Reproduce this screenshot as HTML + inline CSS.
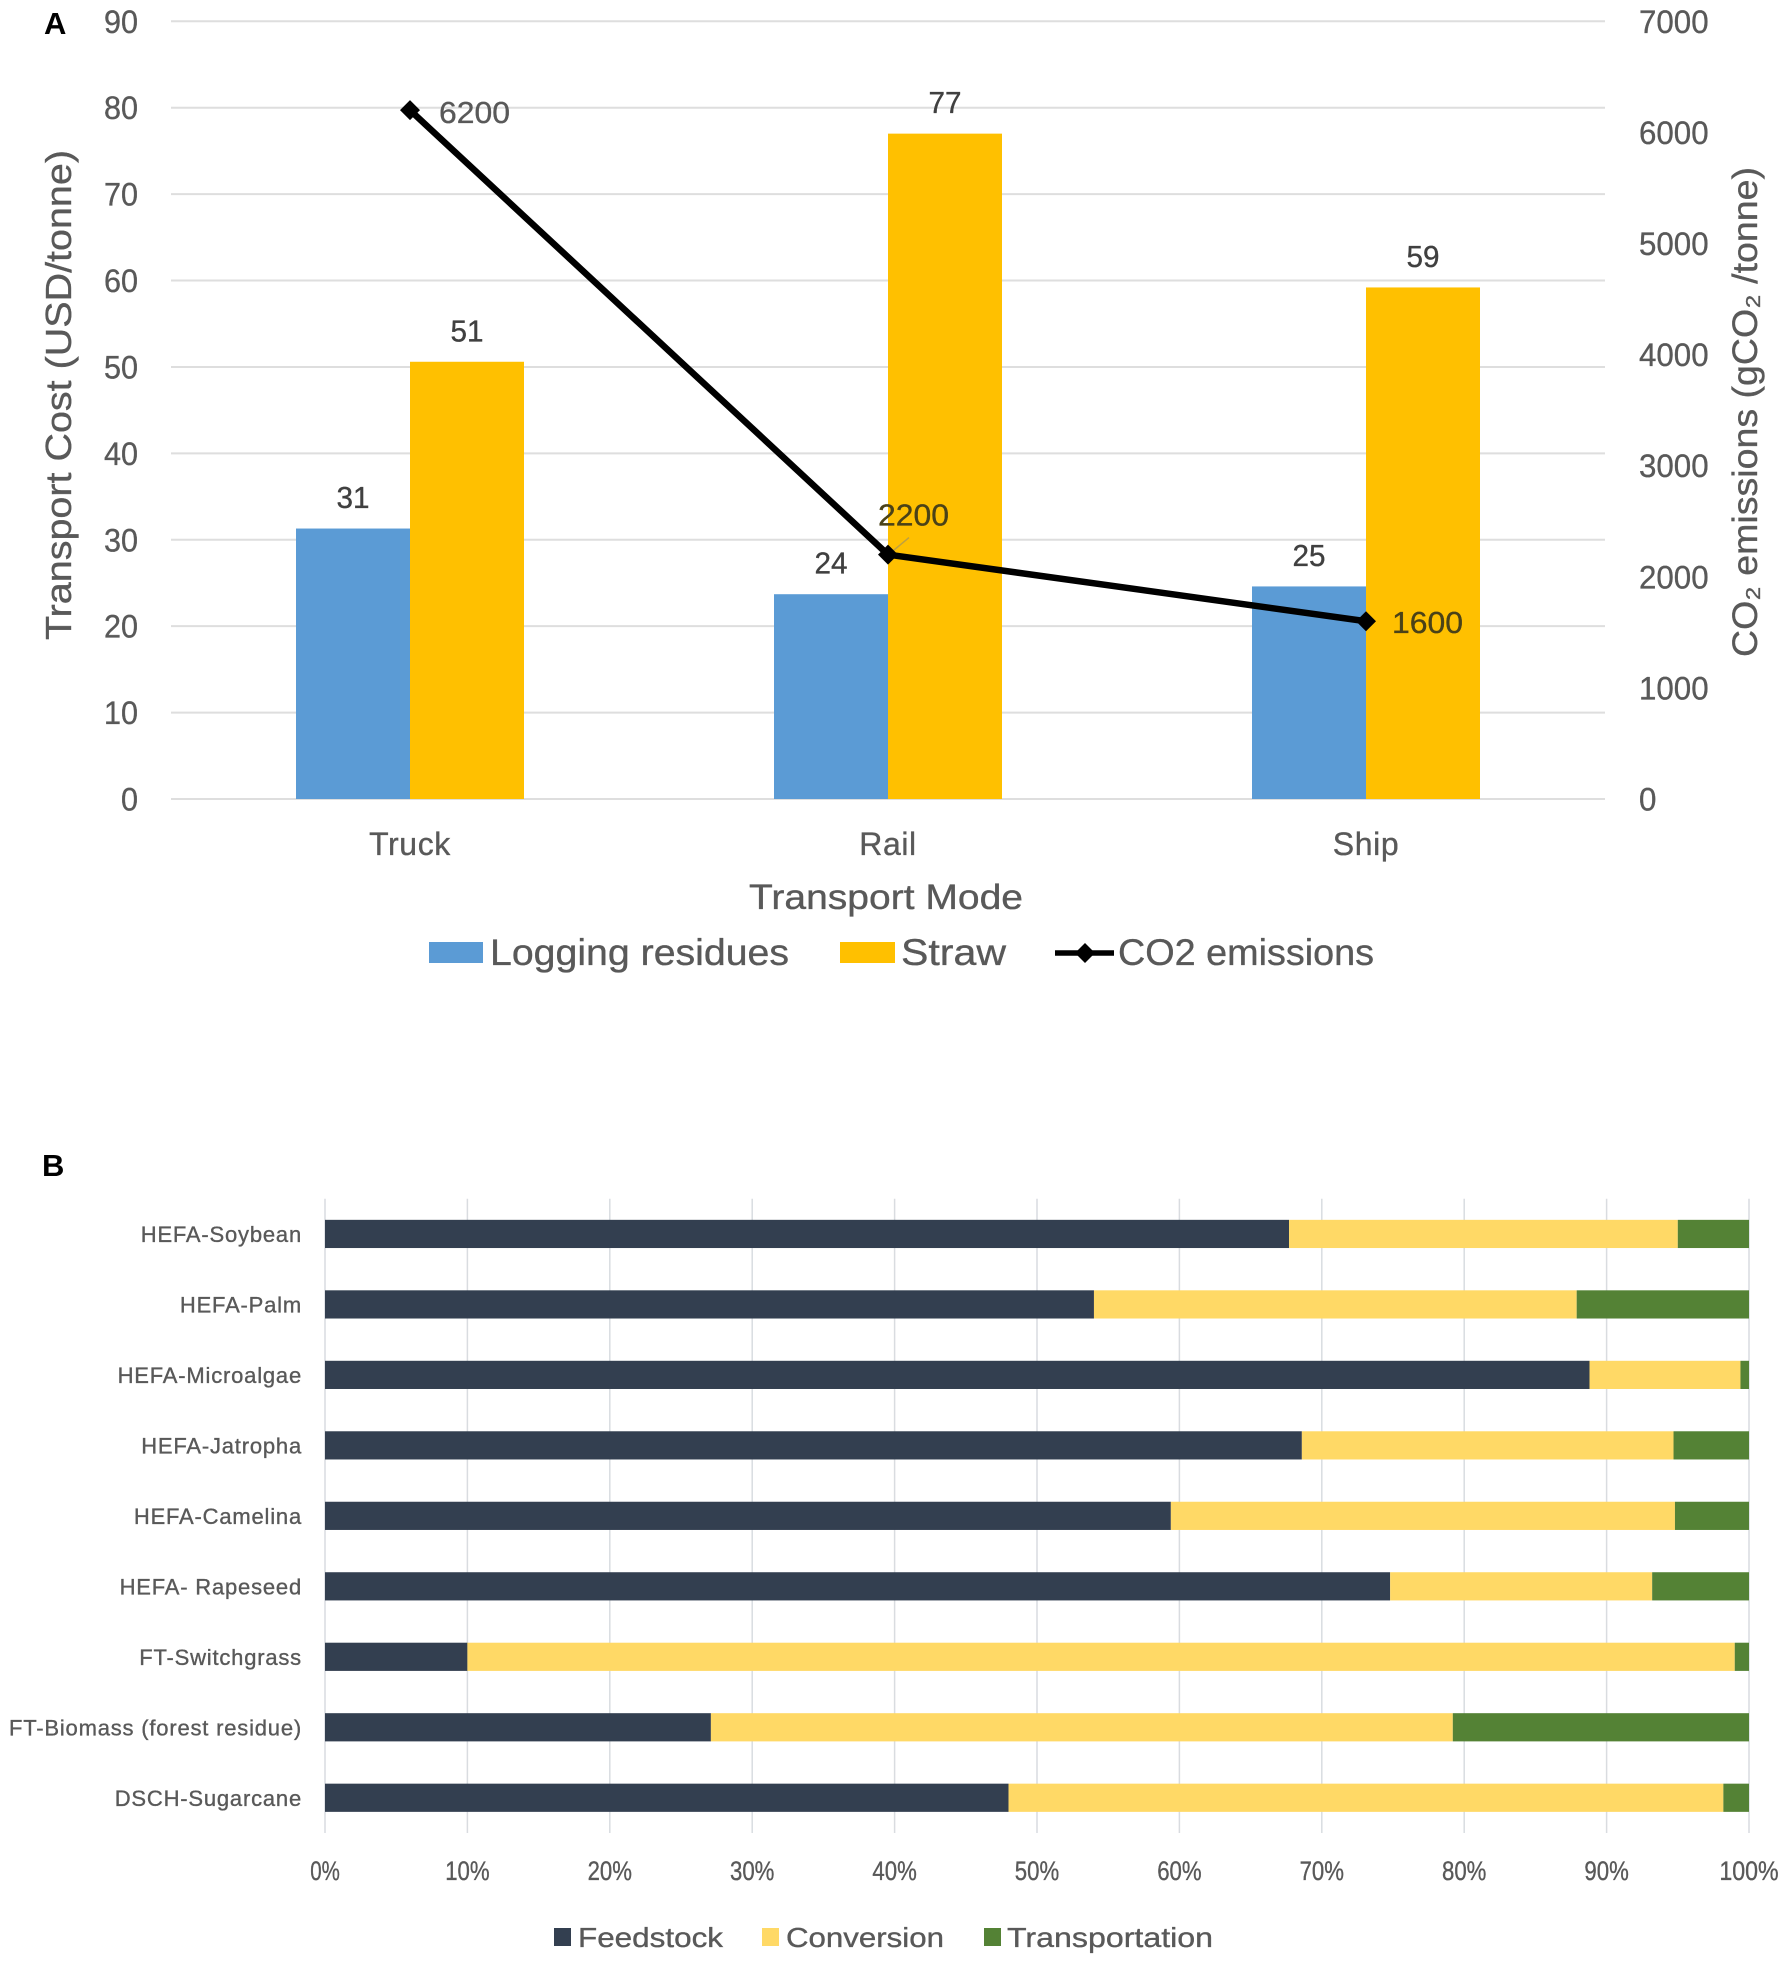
<!DOCTYPE html>
<html lang="en">
<head>
<meta charset="utf-8">
<title>Transport cost and cost breakdown charts</title>
<style>
html,body{margin:0;padding:0;background:#fff}
svg{display:block}
text{font-family:"Liberation Sans","DejaVu Sans",sans-serif;fill:#595959;stroke:#595959;stroke-width:.35px}
</style>
</head>
<body>
<svg id="fig" xmlns="http://www.w3.org/2000/svg" width="1782" height="1966" viewBox="0 0 1782 1966">
<rect width="1782" height="1966" fill="#fff"/>
<text x="44" y="34" font-size="31" font-weight="700" style="fill:#000;stroke:none">A</text>
<text x="42" y="1176" font-size="31" font-weight="700" style="fill:#000;stroke:none">B</text>
<g id="chartA"></g>
<text transform="translate(71,395) rotate(-90)" text-anchor="middle" font-size="36" textLength="490" lengthAdjust="spacingAndGlyphs">Transport Cost  (USD/tonne)</text>
<text transform="translate(1757,412) rotate(-90)" text-anchor="middle" font-size="35" textLength="490" lengthAdjust="spacingAndGlyphs">CO₂ emissions  (gCO₂ /tonne)</text>
<text x="886" y="909" text-anchor="middle" font-size="35" font-weight="400" textLength="274" lengthAdjust="spacingAndGlyphs">Transport Mode</text>
<g transform="translate(2,0)">
<rect x="427" y="942" width="54" height="21" fill="#5B9BD5"/>
<text x="488" y="965" font-size="37" textLength="299" lengthAdjust="spacingAndGlyphs">Logging residues</text>
<rect x="838" y="942" width="55" height="21" fill="#FFC000"/>
<text x="899" y="965" font-size="37" textLength="105" lengthAdjust="spacingAndGlyphs">Straw</text>
<line x1="1053" y1="953" x2="1112" y2="953" stroke="#000" stroke-width="5.5"/>
<path d="M1083 943L1093 953L1083 963L1073 953Z" fill="#000"/>
<text x="1116" y="965" font-size="37" textLength="256" lengthAdjust="spacingAndGlyphs">CO2 emissions</text>
</g>
<g id="chartB"></g>
<g transform="translate(2,0)">
<rect x="552" y="1928" width="17" height="18" fill="#333F50"/>
<text x="576" y="1947" font-size="28" textLength="145" lengthAdjust="spacingAndGlyphs">Feedstock</text>
<rect x="760" y="1928" width="17" height="18" fill="#FFD966"/>
<text x="784" y="1947" font-size="28" textLength="158" lengthAdjust="spacingAndGlyphs">Conversion</text>
<rect x="982" y="1928" width="17" height="18" fill="#548235"/>
<text x="1005" y="1947" font-size="28" textLength="206" lengthAdjust="spacingAndGlyphs">Transportation</text>
</g>
</svg>
<script>
// Panel A data
const modes = ['Truck', 'Rail', 'Ship'];
const loggingResidues = [31.3, 23.7, 24.6];
const straw = [50.6, 77, 59.2];
const co2Emissions = [6200, 2200, 1600];
const loggingLabels = ['31', '24', '25'];
const strawLabels = ['51', '77', '59'];
const co2Labels = ['6200', '2200', '1600'];
const costTicks = [0, 10, 20, 30, 40, 50, 60, 70, 80, 90];
const co2Ticks = [0, 1000, 2000, 3000, 4000, 5000, 6000, 7000];

// Panel B data
const pathways = ['HEFA-Soybean', 'HEFA-Palm', 'HEFA-Microalgae', 'HEFA-Jatropha', 'HEFA-Camelina', 'HEFA- Rapeseed', 'FT-Switchgrass', 'FT-Biomass (forest residue)', 'DSCH-Sugarcane'];
const feedstock = [67.7, 54, 88.8, 68.6, 59.4, 74.8, 10, 27.1, 48];
const conversion = [27.3, 33.9, 10.6, 26.1, 35.4, 18.4, 89, 52.1, 50.2];
const transportation = [5, 12.1, 0.6, 5.3, 5.2, 6.8, 1, 20.8, 1.8];
const shareTicks = [0, 10, 20, 30, 40, 50, 60, 70, 80, 90, 100];

const NS = 'http://www.w3.org/2000/svg';
function mk(parent, tag, attrs, txt) {
  const el = document.createElementNS(NS, tag);
  for (const k in attrs) el.setAttribute(k, attrs[k]);
  if (txt !== undefined) el.textContent = txt;
  parent.appendChild(el);
  return el;
}

// Panel A scales
const A = document.getElementById('chartA');
const aLeft = 171, aRight = 1605, aBase = 799, aTop = 21.3;
const yCost = v => aBase - (v / 90) * (aBase - aTop);
const yCo2 = v => aBase - (v / 7000) * (aBase - aTop);
const xMode = i => aLeft + (i + 0.5) * (aRight - aLeft) / modes.length;
const barW = 114;

costTicks.forEach(t => {
  const g = mk(A, 'line', {x1: aLeft, x2: aRight, y1: yCost(t), y2: yCost(t), stroke: '#DEDEDE', 'stroke-width': 2});
  
  
  const s = String(t);
  const l = mk(A, 'text', {x: 138, y: yCost(t) + 11.5, 'text-anchor': 'end', 'font-size': 32, textLength: s.length * 17, lengthAdjust: 'spacingAndGlyphs'}, s);
  
  
});
co2Ticks.forEach(t => {
  const s = String(t);
  const l = mk(A, 'text', {x: 1639, y: yCo2(t) + 11.5, 'font-size': 32, textLength: s.length * 17.4, lengthAdjust: 'spacingAndGlyphs'}, s);
  
  
});
modes.forEach((m, i) => {
  const cx = xMode(i);
  const b1 = mk(A, 'rect', {x: cx - barW, y: yCost(loggingResidues[i]), width: barW, height: aBase - yCost(loggingResidues[i]), fill: '#5B9BD5'});
  
  
  const b2 = mk(A, 'rect', {x: cx, y: yCost(straw[i]), width: barW, height: aBase - yCost(straw[i]), fill: '#FFC000'});
  
  
  const l1 = mk(A, 'text', {x: cx - barW / 2, y: yCost(loggingResidues[i]) - 20.5, 'text-anchor': 'middle', 'font-size': 31, style: 'fill:#404040;stroke:#404040', textLength: 33, lengthAdjust: 'spacingAndGlyphs'}, loggingLabels[i]);
  
  
  const l2 = mk(A, 'text', {x: cx + barW / 2, y: yCost(straw[i]) - 20.5, 'text-anchor': 'middle', 'font-size': 31, style: 'fill:#404040;stroke:#404040', textLength: 33, lengthAdjust: 'spacingAndGlyphs'}, strawLabels[i]);
  
  
  const c = mk(A, 'text', {x: cx, y: 855, 'text-anchor': 'middle', 'font-size': 32, 'letter-spacing': 0.6}, m);
  
  
});
const lead = mk(A, 'line', {x1: xMode(1) + 3, y1: yCo2(co2Emissions[1]) - 2, x2: xMode(1) + 21, y2: yCo2(co2Emissions[1]) - 17, stroke: '#BFA040', 'stroke-width': 1.5});


const linePts = modes.map((m, i) => xMode(i) + ',' + yCo2(co2Emissions[i])).join(' ');
const pl = mk(A, 'polyline', {points: linePts, fill: 'none', stroke: '#000', 'stroke-width': 6.5, 'stroke-linejoin': 'round'});


const co2Dx = [29, -10, 26];
const co2Dy = [13, -29, 12];
modes.forEach((m, i) => {
  const cx = xMode(i), cy = yCo2(co2Emissions[i]);
  const d = mk(A, 'path', {d: `M${cx} ${cy - 10}L${cx + 10} ${cy}L${cx} ${cy + 10}L${cx - 10} ${cy}Z`, fill: '#000'});
  
  
  const tone = i === 0 ? '#595959' : '#4a4218';
  const t = mk(A, 'text', {x: cx + co2Dx[i], y: cy + co2Dy[i], 'font-size': 31, style: 'fill:' + tone + ';stroke:' + tone, textLength: 71, lengthAdjust: 'spacingAndGlyphs'}, co2Labels[i]);
  
  
});

// Panel B scales
const B = document.getElementById('chartB');
const bLeft = 325, bRight = 1749, bTop = 1198.7, bBottom = 1833;
const xShare = v => bLeft + (v / 100) * (bRight - bLeft);
const band = (bBottom - bTop) / pathways.length;
const yPath = i => bTop + (i + 0.5) * band;
const barH = 28.2;

shareTicks.forEach(t => {
  const g = mk(B, 'line', {x1: xShare(t), x2: xShare(t), y1: bTop, y2: bBottom, stroke: '#D9DCE0', 'stroke-width': 1.5});
  
  
  const s = t + '%';
  const l = mk(B, 'text', {x: xShare(t), y: 1880, 'text-anchor': 'middle', 'font-size': 27, textLength: s.length * 14.8, lengthAdjust: 'spacingAndGlyphs'}, s);
  
  
});
pathways.forEach((p, i) => {
  const key = p.toLowerCase().replace(/[^a-z]+/g, '-');
  const y = yPath(i) - barH / 2;
  const r1 = mk(B, 'rect', {x: xShare(0), y: y, width: xShare(feedstock[i]) - xShare(0), height: barH, fill: '#333F50'});
  
  
  const c0 = feedstock[i];
  const r2 = mk(B, 'rect', {x: xShare(c0), y: y, width: xShare(c0 + conversion[i]) - xShare(c0), height: barH, fill: '#FFD966'});
  
  
  const c1 = c0 + conversion[i];
  const r3 = mk(B, 'rect', {x: xShare(c1), y: y, width: xShare(c1 + transportation[i]) - xShare(c1), height: barH, fill: '#548235'});
  
  
  const l = mk(B, 'text', {x: 302, y: yPath(i) + 8, 'text-anchor': 'end', 'font-size': 22, 'letter-spacing': 0.8}, p);
  
  
});
</script>
</body>
</html>
